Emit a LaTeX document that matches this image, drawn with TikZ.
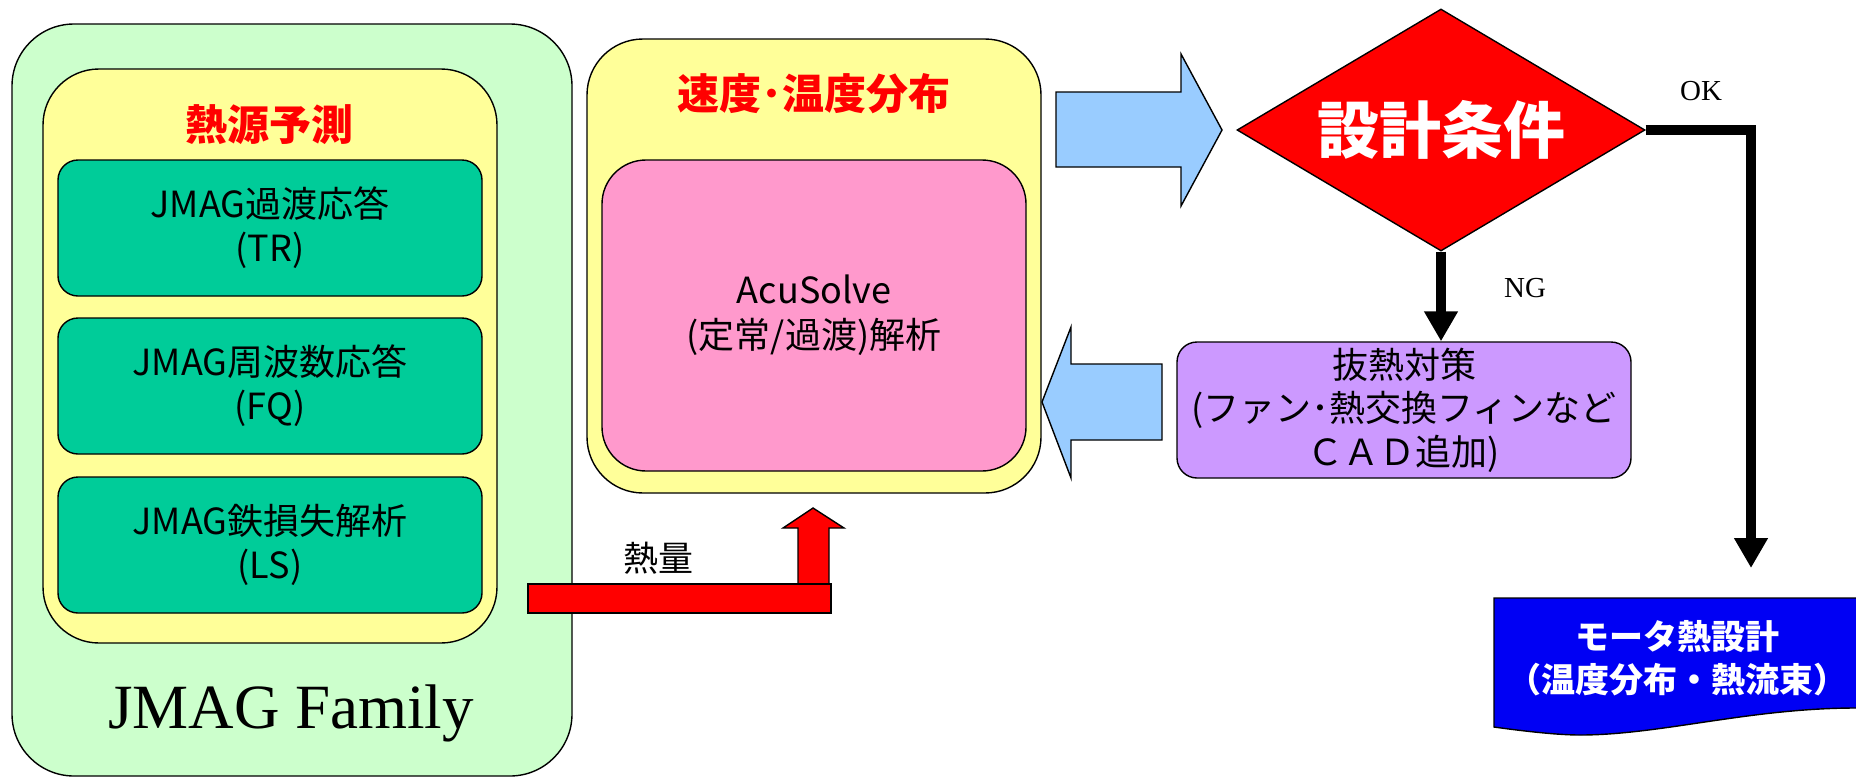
\documentclass[tikz,border=0pt]{standalone}
\usepackage{fontspec}
\setmainfont{Liberation Sans}
\newfontfamily\jp{Noto Sans CJK JP}
\newfontfamily\tms{Liberation Serif}
\usetikzlibrary{shapes.geometric,arrows.meta}
\definecolor{famgreen}{HTML}{CCFFCC}
\definecolor{panelyellow}{HTML}{FFFF99}
\definecolor{jmaggreen}{HTML}{00CC99}
\definecolor{solverpink}{HTML}{FF99CC}
\definecolor{arrowblue}{HTML}{99CCFF}
\definecolor{measurepurple}{HTML}{CC99FF}
\definecolor{docblue}{HTML}{0000F4}
\newcommand\boxfont{\jp\fontsize{18}{22}\selectfont}

\begin{document}
\begin{tikzpicture}[x=0.5pt, y=-0.5pt,
   every node/.style={inner sep=0pt, align=center},
   panel/.style={draw, line width=0.7pt, rounded corners=28pt},
   jmagbox/.style={panel, fill=jmaggreen, rounded corners=10pt,
                   minimum width=212pt, minimum height=68pt, font=\boxfont},
   paneltitle/.style={text=red, font=\jp\bfseries\fontsize{21}{25}\selectfont},
   blockarrow/.style={draw, fill=arrowblue, line width=0.7pt, line join=miter},
   heatarrow/.style={draw, fill=red, line width=0.7pt, line join=miter},
   flowline/.style={line width=5pt, line join=miter, -{Triangle[width=16pt,length=15pt]}},
   flowtag/.style={font=\tms\fontsize{14.5}{17}\selectfont}]

\useasboundingbox (0,0) rectangle (1856,777);

\node[panel, fill=famgreen, rounded corners=31pt, minimum width=280pt, minimum height=376pt] (family) at (292,400) {};
\node[font=\tms\fontsize{31.5}{36}\selectfont] (familyname) at (291,713) {JMAG Family};

\node[panel, fill=panelyellow, minimum width=227pt, minimum height=287pt] (source) at (270,356) {};
\node[paneltitle] (sourcetitle) at (269,125) {熱源予測};
\node[jmagbox] (tr) at (270,228) {JMAG過渡応答\\(TR)};
\node[jmagbox] (fq) at (270,386) {JMAG周波数応答\\(FQ)};
\node[jmagbox] (ls) at (270,545) {JMAG鉄損失解析\\(LS)};

\node[panel, fill=panelyellow, minimum width=227pt, minimum height=227pt] (flow) at (814,266) {};
\node[paneltitle] (flowtitle) at (814,94) {速度･温度分布};
\node[panel, fill=solverpink, rounded corners=22pt, minimum width=212pt, minimum height=155.5pt,
      font=\jp\fontsize{18}{22.5}\selectfont] (solver) at (814,315.5) {AcuSolve\\(定常/過渡)解析};

\node[diamond, draw, line width=0.7pt, fill=red, aspect=1.69, minimum width=204pt, minimum height=121pt,
      text=white, font=\jp\bfseries\fontsize{31}{36}\selectfont] (cond) at (1441,130) {設計条件};

\node[panel, fill=measurepurple, rounded corners=10pt, minimum width=227pt, minimum height=68pt,
      font=\jp\fontsize{18}{21.75}\selectfont] (measure) at (1404,410) {抜熱対策\\(ファン･熱交換フィンなど\\ＣＡＤ追加)};

\draw[blockarrow] (1056,92) -- (1181,92) -- (1181,54) -- (1222,130) -- (1181,206) -- (1181,167) -- (1056,167) -- cycle;
\draw[blockarrow] (1162,364) -- (1071,364) -- (1071,327) -- (1042,402) -- (1071,478) -- (1071,440) -- (1162,440) -- cycle;

\draw[heatarrow] (798,584) -- (798,528) -- (783,528) -- (813,508) -- (844,528) -- (829,528) -- (829,584) -- cycle;
\draw[heatarrow] (528,584) rectangle (831,613);
\node[font=\jp\fontsize{17.5}{20}\selectfont] (heat) at (658,558) {熱量};

\draw[flowline] (cond.south) -- (cond.south |- measure.north);
\node[flowtag] (ng) at (1525,288) {NG};
\coordinate (okend) at (1751,568);
\draw[flowline] (cond.east) -| (okend);
\node[flowtag] (ok) at (1701,91) {OK};

\draw[line width=0.7pt, fill=docblue] (1494,598) -- (1870,598) -- (1870,708) -- (1856,708)
   .. controls (1750,708) and (1660,735) .. (1580,735)
   .. controls (1560,735) and (1530,732) .. (1494,727) -- cycle;
\node[text=white, font=\jp\bfseries\fontsize{17}{21.5}\selectfont] (result) at (1677,658) {モータ熱設計\\（温度分布・熱流束）};

\end{tikzpicture}
\end{document}
